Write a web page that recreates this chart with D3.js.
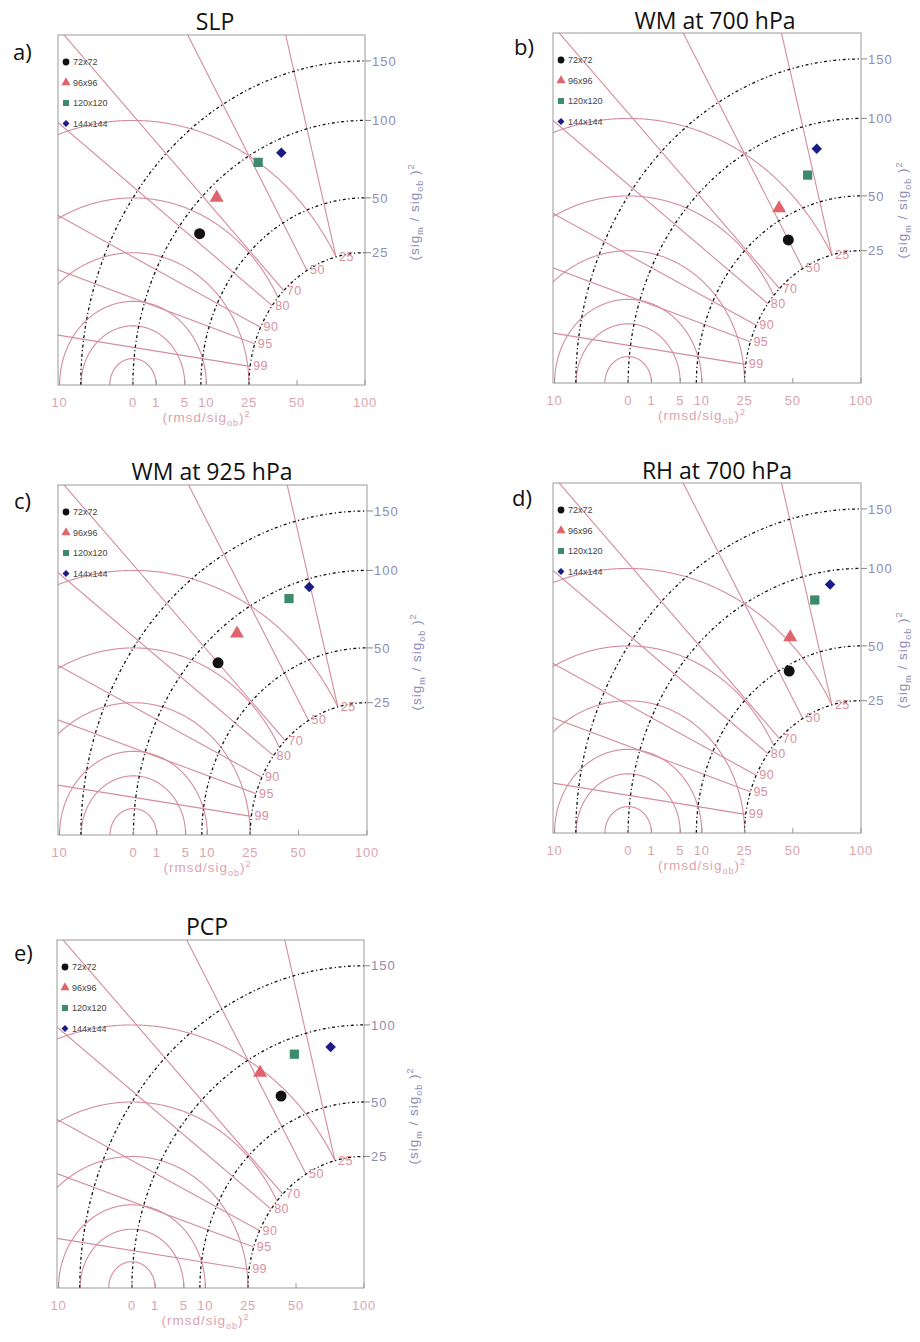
<!DOCTYPE html>
<html><head><meta charset="utf-8">
<script src="https://cdn.jsdelivr.net/npm/d3@7"></script>
<style>body{margin:0;background:#fff}</style>
</head><body><svg id="chart" width="920" height="1342"></svg>
<script>
// ---------------- data ----------------
const panelTitles = ["SLP", "WM at 700 hPa", "WM at 925 hPa", "RH at 700 hPa", "PCP"];
const panelLetters = ["a)", "b)", "c)", "d)", "e)"];
const resolutions = ["72x72", "96x96", "120x120", "144x144"];
// (sig_m/sig_ob)^2 in % and correlation for each resolution
const slpVariance = [83.5, 91, 92, 90];
const slpCorrelation = [0.78, 0.67, 0.48, 0.38];
const wm700Variance = [39, 56, 67, 82];
const wm700Correlation = [0.50, 0.47, 0.28, 0.21];
const wm925Variance = [83, 89, 91, 94];
const wm925Correlation = [0.70, 0.59, 0.35, 0.255];
const rh700Variance = [47, 64, 81.5, 90];
const rh700Correlation = [0.45, 0.38, 0.22, 0.14];
const pcpVariance = [66, 87, 88, 86];
const pcpCorrelation = [0.44, 0.48, 0.32, 0.155];
// axes / reference lines
const varianceTicks = [25, 50, 100, 150];
const rmsdArcs = [1, 5, 10, 25, 50, 100];
const rmsdTickValues = [10, 0, 1, 5, 10, 25, 50, 100];
const rmsdTickSides = [-1, 1, 1, 1, 1, 1, 1, 1];
const correlationLevels = [0.25, 0.5, 0.7, 0.8, 0.9, 0.95, 0.99];
const correlationLabels = ["25", "50", "70", "80", "90", "95", "99"];

// ---------------- layout ----------------
const variances = [slpVariance, wm700Variance, wm925Variance, rh700Variance, pcpVariance];
const correlations = [slpCorrelation, wm700Correlation, wm925Correlation, rh700Correlation, pcpCorrelation];
const frames = [
  {l: 58, t: 35, r: 365, b: 385, tx: 215, ty: 30, lx: 13, ly: 60},
  {l: 553, t: 33, r: 861, b: 383, tx: 715, ty: 29, lx: 514, ly: 55},
  {l: 58, t: 485, r: 367, b: 835, tx: 212, ty: 480, lx: 14, ly: 509},
  {l: 553, t: 483, r: 861, b: 833, tx: 717, ty: 479, lx: 512, ly: 506},
  {l: 57, t: 940, r: 364, b: 1288, tx: 207, ty: 935, lx: 14, ly: 961}
];
const symbolTypes = [d3.symbolCircle, d3.symbolTriangle, d3.symbolSquare, d3.symbolSquare];
const symbolRot = [0, 0, 0, 45];
const symbolColors = ["#111111", "#e0646c", "#3d8a6c", "#1c1c86"];
const pink = "#d58c9c";
const D = Math.sqrt(1.75);

const svg = d3.select("#chart");
svg.append("rect").attr("width", 920).attr("height", 1342).attr("fill", "#fff");
const defs = svg.append("defs");

frames.forEach((f, pi) => {
  const g = svg.append("g");
  const x = d3.scaleLinear().domain([0, D]).range([f.r, f.l]);
  const y = d3.scaleLinear().domain([0, D]).range([f.b, f.t]);
  const clipId = "clip" + pi;
  defs.append("clipPath").attr("id", clipId).append("rect")
    .attr("x", f.l).attr("y", f.t).attr("width", f.r - f.l).attr("height", f.b - f.t);
  const plot = g.append("g").attr("clip-path", `url(#${clipId})`);
  const line = d3.line().defined(d => d.ok).x(d => x(d.u)).y(d => y(d.v));

  // rmsd arcs around the reference point (1,0)
  rmsdArcs.forEach(r2 => {
    const r = Math.sqrt(r2 / 100);
    const pts = d3.range(0, 721).map(i => {
      const p = Math.PI * i / 720;
      const u = 1 + r * Math.cos(p), v = r * Math.sin(p);
      return {u, v, ok: Math.hypot(u, v) >= 0.499};
    });
    plot.append("path").attr("d", line(pts)).attr("fill", "none")
      .attr("stroke", pink).attr("stroke-width", 1.1);
  });
  // correlation rays
  correlationLevels.forEach(c => {
    const s = Math.sqrt(1 - c * c);
    const pts = [0.5, 2].map(R => ({u: R * c, v: R * s, ok: true}));
    plot.append("path").attr("d", line(pts)).attr("fill", "none")
      .attr("stroke", pink).attr("stroke-width", 1.1);
  });
  // variance-ratio arcs (dotted)
  varianceTicks.forEach(vt => {
    const R = Math.sqrt(vt / 100);
    const pts = d3.range(0, 361).map(i => {
      const p = Math.PI / 2 * i / 360;
      return {u: R * Math.cos(p), v: R * Math.sin(p), ok: true};
    });
    plot.append("path").attr("d", line(pts)).attr("fill", "none")
      .attr("stroke", "#111").attr("stroke-width", 1.3)
      .attr("stroke-dasharray", "3,2.6,1.2,2.6");
  });
  // correlation labels
  correlationLevels.forEach((c, i) => {
    const s = Math.sqrt(1 - c * c);
    g.append("text").attr("x", x(0.5 * c) + 3).attr("y", y(0.5 * s) + 4)
      .attr("font-family", "Liberation Sans, Arial, sans-serif").attr("font-size", 12.5)
      .attr("fill", "#d98fa0").attr("letter-spacing", 0.5).text(correlationLabels[i]);
  });

  // frame
  g.append("rect").attr("x", f.l).attr("y", f.t).attr("width", f.r - f.l).attr("height", f.b - f.t)
    .attr("fill", "none").attr("stroke", "#999").attr("stroke-width", 1);

  // right axis
  varianceTicks.forEach(vt => {
    const yy = y(Math.sqrt(vt / 100));
    g.append("line").attr("x1", f.r).attr("x2", f.r + 6).attr("y1", yy).attr("y2", yy)
      .attr("stroke", "#888").attr("stroke-width", 1);
    g.append("text").attr("x", f.r + 7).attr("y", yy).attr("dy", "0.36em")
      .attr("font-family", "Liberation Sans, Arial, sans-serif").attr("font-size", 13)
      .attr("letter-spacing", 1).attr("fill", "#8c8cb4").text(vt);
  });
  const rtx = Math.min(f.r + 54, 907);
  const rt = g.append("text")
    .attr("transform", `translate(${rtx},${(f.t + f.b) / 2 + 2}) rotate(-90)`)
    .attr("text-anchor", "middle").attr("font-family", "Liberation Sans, Arial, sans-serif")
    .attr("font-size", 13.5).attr("letter-spacing", 1).attr("fill", "#8c8cb4");
  rt.append("tspan").text("(sig");
  rt.append("tspan").attr("dy", 4).attr("font-size", 9).text("m");
  rt.append("tspan").attr("dy", -4).text(" / sig");
  rt.append("tspan").attr("dy", 4).attr("font-size", 9).text("ob");
  rt.append("tspan").attr("dy", -4).text(" )");
  rt.append("tspan").attr("dy", -5).attr("font-size", 9).text("2");

  // bottom axis
  rmsdTickValues.forEach((v, i) => {
    const xx = x(1 - rmsdTickSides[i] * Math.sqrt(v / 100));
    g.append("line").attr("x1", xx).attr("x2", xx).attr("y1", f.b).attr("y2", f.b - 5)
      .attr("stroke", "#999").attr("stroke-width", 1);
    g.append("text").attr("x", xx).attr("y", f.b + 22).attr("text-anchor", "middle")
      .attr("font-family", "Liberation Sans, Arial, sans-serif").attr("font-size", 13)
      .attr("letter-spacing", 0.8).attr("fill", "#dba3b0").text(v);
  });
  const bt = g.append("text").attr("x", (f.l + f.r) / 2 - 5).attr("y", f.b + 37)
    .attr("text-anchor", "middle").attr("font-family", "Liberation Sans, Arial, sans-serif")
    .attr("font-size", 13.5).attr("letter-spacing", 1).attr("fill", "#dba3b0");
  bt.append("tspan").text("(rmsd/sig");
  bt.append("tspan").attr("dy", 4).attr("font-size", 9).text("ob");
  bt.append("tspan").attr("dy", -4).text(")");
  bt.append("tspan").attr("dy", -5).attr("font-size", 9).text("2");

  // data markers
  const vars = variances[pi], cors = correlations[pi];
  resolutions.forEach((res, i) => {
    const R = Math.sqrt(vars[i] / 100);
    const c = cors[i], s = Math.sqrt(1 - c * c);
    const size = i === 0 ? 95 : (i === 3 ? 55 : 85);
    g.append("path").attr("d", d3.symbol().type(symbolTypes[i]).size(size)())
      .attr("transform", `translate(${x(R * c)},${y(R * s)}) rotate(${symbolRot[i]})`)
      .attr("fill", symbolColors[i]);
  });

  // legend
  resolutions.forEach((res, i) => {
    const ly = f.t + 27 + i * 20.5;
    const size = i === 3 ? 24 : 36;
    g.append("path").attr("d", d3.symbol().type(symbolTypes[i]).size(size)())
      .attr("transform", `translate(${f.l + 8},${ly}) rotate(${symbolRot[i]})`)
      .attr("fill", symbolColors[i]);
    g.append("text").attr("x", f.l + 15).attr("y", ly).attr("dy", "0.35em")
      .attr("font-family", "Liberation Sans, Arial, sans-serif").attr("font-size", 9)
      .attr("fill", "#444").text(res);
  });

  // title and panel letter
  g.append("text").attr("x", f.tx).attr("y", f.ty).attr("text-anchor", "middle")
    .attr("font-family", "Open Sans, Noto Sans, sans-serif").attr("font-size", 23)
    .attr("fill", "#111").text(panelTitles[pi]);
  g.append("text").attr("x", f.lx).attr("y", f.ly)
    .attr("font-family", "Open Sans, Noto Sans, sans-serif").attr("font-size", 22)
    .attr("fill", "#111").text(panelLetters[pi]);
});
</script></body></html>
